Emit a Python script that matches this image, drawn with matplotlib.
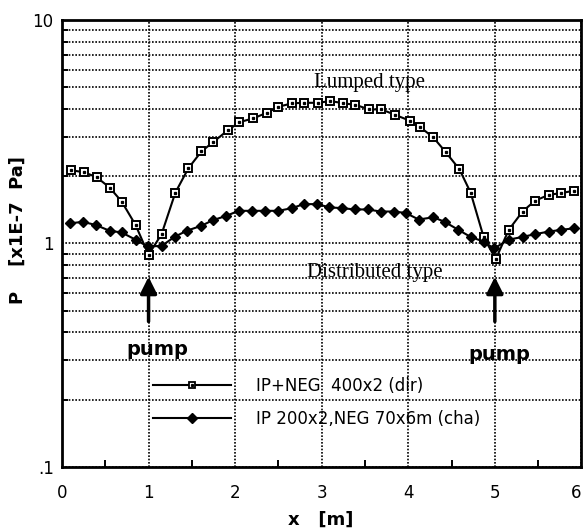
import matplotlib
matplotlib.use('Agg')
import matplotlib.pyplot as plt
import matplotlib.transforms as mtransforms
from matplotlib.ticker import LogLocator, FixedLocator, NullFormatter, FixedFormatter
from matplotlib.legend_handler import HandlerTuple

# lumped type: IP+NEG 400x2 (dir)
x_lumped = [0.10, 0.26, 0.40, 0.55, 0.69, 0.85, 1.00, 1.15, 1.31, 1.46,
            1.61, 1.75, 1.92, 2.05, 2.21, 2.37, 2.50, 2.66, 2.80, 2.96,
            3.10, 3.25, 3.39, 3.55, 3.69, 3.85, 4.02, 4.14, 4.29, 4.43,
            4.59, 4.72, 4.87, 5.01, 5.16, 5.32, 5.46, 5.62, 5.76, 5.91]
p_lumped = [2.13, 2.08, 1.98, 1.78, 1.54, 1.21, 0.89, 1.10, 1.69, 2.17,
            2.58, 2.85, 3.22, 3.49, 3.63, 3.85, 4.09, 4.24, 4.26, 4.26,
            4.34, 4.24, 4.17, 3.98, 3.98, 3.76, 3.54, 3.31, 2.98, 2.57,
            2.15, 1.69, 1.07, 0.85, 1.15, 1.39, 1.55, 1.65, 1.68, 1.72]

# distributed type: IP 200x2, NEG 70x6m (cha)
x_distr = [0.09, 0.24, 0.39, 0.55, 0.69, 0.85, 0.99, 1.15, 1.30, 1.44,
           1.61, 1.74, 1.90, 2.04, 2.20, 2.35, 2.50, 2.66, 2.79, 2.95,
           3.09, 3.23, 3.38, 3.53, 3.68, 3.83, 3.97, 4.12, 4.29, 4.42,
           4.58, 4.72, 4.87, 4.99, 5.16, 5.32, 5.46, 5.62, 5.76, 5.92]
p_distr = [1.23, 1.25, 1.21, 1.14, 1.12, 1.04, 0.97, 0.975, 1.07, 1.14,
           1.20, 1.27, 1.33, 1.40, 1.40, 1.40, 1.40, 1.44, 1.50, 1.50,
           1.45, 1.44, 1.42, 1.42, 1.39, 1.39, 1.37, 1.28, 1.31, 1.25,
           1.15, 1.07, 1.02, 0.95, 1.04, 1.07, 1.10, 1.13, 1.15, 1.17]

pump_x = [1.0, 5.0]
labels = ['IP+NEG  400x2 (dir)', 'IP 200x2,NEG 70x6m (cha)']
xticks = [0, 1, 2, 3, 4, 5, 6]
yticks = [0.1, 1, 10]
ytick_labels = ['.1', '1', '10']

plt.rcParams['font.family'] = ['DejaVu Sans']

fig = plt.figure(figsize=(5.83, 5.30), dpi=100)
ax = fig.add_axes([0.1063, 0.1189, 0.891, 0.8434])

ax.set_yscale('log')
ax.set_xlim(0, 6)
ax.set_ylim(0.1, 10)

# grid
ax.yaxis.set_major_locator(FixedLocator(yticks))
ax.yaxis.set_major_formatter(FixedFormatter(ytick_labels))
ax.yaxis.set_minor_locator(LogLocator(base=10, subs=range(2, 10)))
ax.yaxis.set_minor_formatter(NullFormatter())
ax.xaxis.set_major_locator(FixedLocator(xticks))
ax.xaxis.set_minor_locator(FixedLocator([0.5, 1.5, 2.5, 3.5, 4.5, 5.5]))
ax.grid(True, which='both', axis='y', color='black', linestyle=(0, (1, 1)), linewidth=1.2)
ax.grid(True, which='major', axis='x', color='black', linestyle=(0, (1, 1)), linewidth=1.2)

ax.tick_params(axis='both', which='both', direction='in', labelsize=12, width=1.4)
ax.tick_params(axis='x', which='major', length=0, pad=12)
ax.tick_params(axis='x', which='minor', length=5)
ax.tick_params(axis='y', which='major', length=0, pad=6)
ax.tick_params(axis='y', which='minor', length=4)
for s in ax.spines.values():
    s.set_linewidth(2)

# keep the last x tick label inside the picture
last = ax.get_xticklabels()[-1]
last.set_transform(last.get_transform() + mtransforms.ScaledTranslation(-5 / 100, 0, fig.dpi_scale_trans))

l1, = ax.plot(x_lumped, p_lumped, color='black', lw=1.5, marker='s', ms=5.5,
              mfc='white', mec='black', mew=1.4)
d1, = ax.plot(x_lumped, p_lumped, ls='none', marker='s', ms=1.4, color='black')
l2, = ax.plot(x_distr, p_distr, color='black', lw=1.5, marker='D', ms=5.5,
              mfc='black', mec='black')

ax.text(2.91, 5.0, 'Lumped type', family='Liberation Serif', fontsize=15, va='baseline')
ax.text(2.83, 0.705, 'Distributed type', family='Liberation Serif', fontsize=15, va='baseline')

for px in pump_x:
    ax.annotate('', xy=(px, 0.73), xytext=(px, 0.435),
                arrowprops=dict(arrowstyle='-|>,head_length=1.0,head_width=0.5',
                                color='black', lw=2.5))
ax.text(1.1, 0.317, 'pump', fontsize=14, fontweight='bold', ha='center', va='baseline')
ax.text(5.05, 0.30, 'pump', fontsize=14, fontweight='bold', ha='center', va='baseline')

# legend handles drawn with slightly smaller markers, as in the original
h1 = plt.Line2D([], [], color='black', lw=1.5, marker='s', ms=5, mfc='white', mec='black', mew=1.3)
h1d = plt.Line2D([], [], ls='none', marker='s', ms=1.3, color='black')
h2 = plt.Line2D([], [], color='black', lw=1.5, marker='D', ms=5.5, mfc='black', mec='black')
leg = ax.legend([(h1, h1d), h2], labels, loc='upper left', bbox_to_anchor=(0.175, 0.201),
                frameon=False, fontsize=12, handlelength=4.7, handletextpad=1.5,
                labelspacing=0.9, borderpad=0, borderaxespad=0,
                handler_map={tuple: HandlerTuple(ndivide=1)})

ax.set_xlabel('x   [m]', fontsize=13, fontweight='bold')
ax.set_ylabel('P    [x1E-7  Pa]', fontsize=13, fontweight='bold')
ax.xaxis.set_label_coords(0.498, -0.098)
ax.yaxis.set_label_coords(-0.067, 0.53)

fig.savefig('out.png', dpi=100)
